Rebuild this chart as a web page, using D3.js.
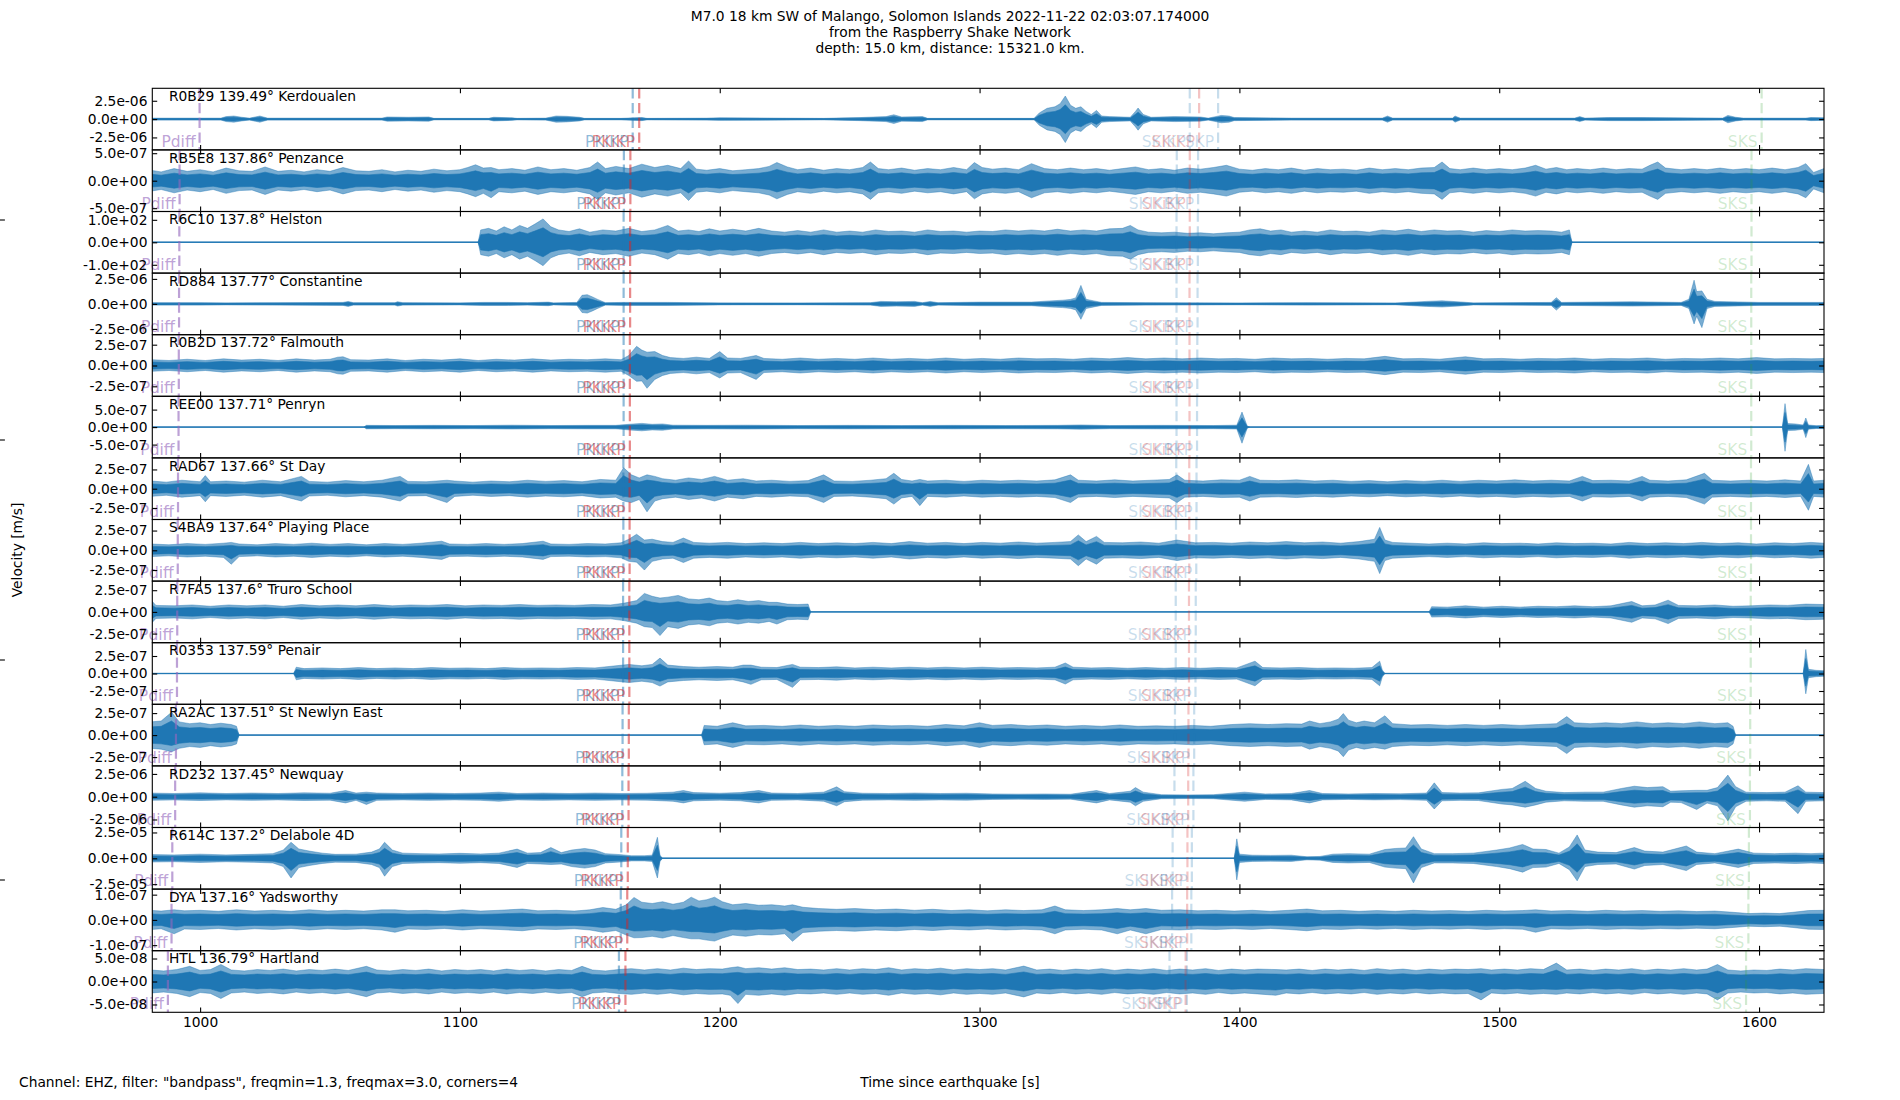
<!DOCTYPE html>
<html>
<head>
<meta charset="utf-8">
<script src="https://cdn.jsdelivr.net/npm/d3@7"></script>
<style>
  body { margin: 0; background: #fff; }
  svg { display: block; }
  text { font-family: "DejaVu Sans", sans-serif; }
</style>
</head>
<body>
<div id="chart"></div>
<script>
// ---- data ----
const titleLines = [
  "M7.0 18 km SW of Malango, Solomon Islands 2022-11-22 02:03:07.174000",
  "from the Raspberry Shake Network",
  "depth: 15.0 km, distance: 15321.0 km."
];
const stations  = ["R0B29", "RB5E8", "R6C10", "RD884", "R0B2D", "REE00", "RAD67", "S4BA9",
                   "R7FA5", "R0353", "RA2AC", "RD232", "R614C", "DYA", "HTL"];
const distances = ["139.49", "137.86", "137.8", "137.77", "137.72", "137.71", "137.66", "137.64",
                   "137.6", "137.59", "137.51", "137.45", "137.2", "137.16", "136.79"];
const places    = ["Kerdoualen", "Penzance", "Helston", "Constantine", "Falmouth", "Penryn", "St Day",
                   "Playing Place", "Truro School", "Penair", "St Newlyn East", "Newquay", "Delabole 4D",
                   "Yadsworthy", "Hartland"];
// amplitudes of each panel are given in units of 10^exponent
const exponents  = [-6, -7, 2, -6, -7, -7, -7, -7, -7, -7, -7, -6, -5, -7, -8];
const tickValues = [2.5, 5.0, 1.0, 2.5, 2.5, 5.0, 2.5, 2.5, 2.5, 2.5, 2.5, 2.5, 2.5, 1.0, 5.0];
const yLimits    = [4.2, 5.6, 1.37, 3.08, 3.7, 8.8, 4.0, 3.9, 3.55, 4.4, 3.5, 3.38, 2.98, 1.22, 6.7];

const timeRange = [981.6, 1625];
const timeTicks = [1000, 1100, 1200, 1300, 1400, 1500, 1600];

const phaseNames = ["Pdiff", "PKIKP", "PKiKP", "SKIKP", "SKiKP", "SKP", "SKS"];
const phaseTimes = [
  [999.8, 1166.5, 1169.0, 1380.9, 1384.5, 1391.8, 1601.0],
  [992.1, 1163.1, 1165.6, 1375.9, 1380.9, 1384.1, 1597.1],
  [992.0, 1163.0, 1165.5, 1375.8, 1380.9, 1384.0, 1597.1],
  [991.9, 1163.0, 1165.5, 1375.8, 1380.8, 1383.9, 1597.0],
  [991.8, 1163.0, 1165.4, 1375.8, 1380.8, 1383.8, 1597.0],
  [991.7, 1163.0, 1165.4, 1375.8, 1380.8, 1383.7, 1597.0],
  [991.5, 1162.9, 1165.3, 1375.7, 1380.7, 1383.5, 1596.9],
  [991.4, 1162.9, 1165.3, 1375.6, 1380.7, 1383.4, 1596.9],
  [991.2, 1162.8, 1165.2, 1375.5, 1380.6, 1383.2, 1596.8],
  [991.1, 1162.8, 1165.2, 1375.5, 1380.6, 1383.1, 1596.8],
  [990.7, 1162.6, 1165.0, 1375.2, 1380.4, 1382.6, 1596.6],
  [990.4, 1162.5, 1164.9, 1375.0, 1380.3, 1382.3, 1596.5],
  [989.3, 1162.1, 1164.6, 1374.3, 1380.0, 1381.7, 1596.1],
  [989.0, 1161.9, 1164.4, 1374.1, 1379.9, 1381.5, 1595.9],
  [987.6, 1161.2, 1163.7, 1373.1, 1379.3, 1379.8, 1595.0]
];
const phaseColors = ["#9467bd", "#1f77b4", "#d62728", "#1f77b4", "#d62728", "#1f77b4", "#2ca02c"];
const phaseAlpha  = [0.62, 0.5, 0.55, 0.25, 0.28, 0.25, 0.22];

// trace envelopes: [time s, upper amplitude, (lower amplitude)] in panel units
const envR0B29 = [[981,.13],[1008,.13],[1010,.34],[1013,.42],[1016,.25],[1019,.13],[1023,.42],[1026,.13],[1070,.13],[1072,.29],[1080,.25],[1088,.29],[1090,.1],[1111,.1],[1113,.25],[1120,.17],[1122,.1],[1133,.13],[1137,.42],[1141,.38],[1146,.25],[1148,.1],[1162,.1],[1170,.21],[1172,.1],[1195,.13],[1200,.17],[1240,.1],[1254,.21],[1264,.34],[1267,.59],[1270,.29],[1278,.34],[1280,.1],[1321,.1],[1323,.84],[1326,1.47],[1329,1.68],[1331,2.1],[1333,3.15,3.2],[1335,1.89],[1337,1.47],[1339,1.68],[1341,1.05],[1343,.63],[1345,1.18],[1347,.42],[1350,.34],[1358,.25],[1360,1.05],[1361,1.51],[1363,.63],[1366,.25],[1375,.34],[1385,.29],[1388,.13],[1393,.5],[1396,.42],[1398,.21],[1420,.13],[1455,.13],[1457,.42],[1459,.13],[1482,.13],[1483,.42],[1485,.13],[1529,.13],[1531,.34],[1533,.13],[1542,.21],[1555,.21],[1586,.13],[1588,.5],[1591,.25],[1594,.13],[1618,.13],[1620,.21],[1625,.17]];
const envRB5E8 = [[981,1.9],[985,1.6],[990,2.2],[995,1.7],[1000,2.0],[1005,1.6],[1010,2.3],[1015,1.8],[1020,1.7],[1025,2.5],[1030,1.7],[1035,1.9],[1040,1.6],[1045,2.0],[1050,1.7],[1055,2.4],[1060,1.8],[1065,1.7],[1070,2.0],[1075,1.6],[1080,1.9],[1085,1.7],[1090,2.1],[1095,1.8],[1100,2.0],[1103,2.4],[1106,2.9],[1109,2.3],[1112,2.4,3.1],[1115,2.0],[1120,2.2],[1125,1.9],[1130,2.5],[1135,2.0],[1140,2.2],[1145,1.9],[1150,2.4],[1153,3.4],[1156,2.2],[1160,2.6],[1165,2.2],[1170,3.0],[1175,2.4],[1180,2.8],[1185,2.2],[1188,3.6],[1191,2.1],[1195,1.9],[1200,2.2],[1205,1.8],[1210,2.0],[1215,2.2],[1219,2.6],[1222,3.3],[1226,2.5],[1230,2.0],[1235,2.3],[1240,1.9],[1245,2.2],[1250,2.0],[1255,2.4],[1258,3.4],[1261,2.2],[1265,2.0],[1270,2.3],[1275,1.9],[1280,2.2],[1285,2.0],[1290,2.4],[1295,2.0],[1298,3.3],[1301,2.4],[1305,2.1],[1310,2.3],[1315,2.0],[1320,3.1],[1325,2.2],[1330,2.0],[1335,2.3],[1340,2.0],[1345,2.2],[1350,1.9],[1355,2.2],[1360,2.5],[1365,2.0],[1370,2.2],[1375,1.9],[1380,2.3],[1385,2.1],[1390,2.4],[1395,2.8],[1400,2.1],[1405,1.9],[1410,2.2],[1415,2.0],[1420,2.3],[1425,1.9],[1430,2.2],[1435,2.0],[1440,2.1],[1445,1.9],[1450,2.3],[1455,2.0],[1460,2.2],[1465,2.0],[1470,2.3],[1475,2.4],[1478,3.4],[1481,2.2],[1485,2.0],[1490,2.3],[1495,2.0],[1500,2.2],[1505,2.0],[1510,2.3],[1514,2.8],[1518,2.1],[1522,2.4],[1526,2.0],[1530,2.2],[1535,2.0],[1540,2.3],[1545,2.0],[1550,2.2],[1555,2.1],[1558,2.8],[1561,3.4],[1564,2.3],[1570,2.0],[1575,2.2],[1580,2.0],[1585,2.3],[1590,2.0],[1595,2.2],[1600,2.0],[1605,2.3],[1610,2.0],[1615,2.4],[1618,3.1],[1621,1.5],[1625,2.2]];
const envR6C10 = [[981,0],[1107,0],[1108,.55],[1111,.62],[1114,.5],[1117,.69],[1120,.55],[1123,.75],[1126,.62],[1129,.82],[1132,1.04],[1135,.69],[1138,.55],[1142,.48],[1146,.6],[1150,.45],[1155,.55],[1160,.5],[1165,.62],[1170,.48],[1175,.55],[1180,.75],[1184,.5],[1188,.55],[1192,.48],[1196,.6],[1200,.5],[1205,.58],[1210,.5],[1215,.62],[1220,.5],[1225,.45],[1230,.52],[1235,.45],[1240,.55],[1245,.45],[1250,.5],[1255,.45],[1260,.55],[1265,.48],[1270,.5],[1275,.45],[1280,.55],[1285,.48],[1290,.5],[1295,.45],[1300,.5],[1305,.48],[1310,.55],[1315,.5],[1320,.55],[1325,.5],[1330,.58],[1335,.5],[1340,.55],[1345,.5],[1350,.6],[1355,.62],[1358,.75],[1361,.55],[1365,.45],[1370,.42],[1375,.45],[1380,.4],[1385,.42],[1390,.38],[1395,.42],[1400,.45],[1404,.55],[1408,.6],[1412,.5],[1416,.55],[1420,.45],[1425,.5],[1430,.45],[1435,.55],[1440,.48],[1445,.5],[1450,.45],[1455,.55],[1460,.5],[1465,.58],[1470,.48],[1475,.55],[1480,.5],[1485,.52],[1490,.45],[1495,.52],[1500,.48],[1505,.55],[1510,.5],[1515,.52],[1520,.5],[1524,.45],[1527,.55],[1528,0],[1625,0]];
const envRD884 = [[981,.12],[1000,.12],[1010,.1],[1030,.12],[1055,.15],[1057,.25],[1059,.12],[1075,.12],[1076,.22],[1078,.12],[1100,.1],[1109,.15],[1118,.15],[1126,.12],[1134,.18],[1136,.1],[1145,.15],[1147,.86],[1149,.92],[1151,.7],[1153,.45],[1156,.12],[1163,.15],[1180,.15],[1200,.1],[1230,.09],[1258,.12],[1262,.25],[1268,.22],[1275,.25],[1278,.12],[1281,.25],[1284,.12],[1300,.18],[1320,.18],[1327,.3],[1332,.37],[1335,.45],[1337,.6],[1339,1.85,1.54],[1341,.46],[1344,.3],[1347,.15],[1364,.12],[1400,.09],[1426,.12],[1460,.09],[1472,.25],[1478,.31],[1485,.2],[1490,.1],[1520,.15],[1522,.62],[1524,.15],[1551,.22],[1570,.15],[1573,.46],[1575,2.37,2.0],[1576,1.23],[1578,1.3,2.37],[1580,.46],[1583,.25],[1592,.2],[1600,.15],[1625,.15]];
const envR0B2D = [[981,.7],[988,.6],[995,.75],[1002,.6],[1009,.8],[1016,.65],[1023,.75],[1030,.6],[1037,.8],[1044,.65],[1050,.75],[1053,1.0],[1055,1.05],[1058,.7],[1065,.65],[1072,.8],[1079,.6],[1086,.75],[1093,.65],[1100,.8],[1107,.6],[1114,.75],[1121,.65],[1128,.8],[1135,.65],[1142,.75],[1149,.7],[1156,.8],[1162,.7],[1165,1.2],[1168,2.3,1.9],[1170,1.85],[1172,1.6,2.74],[1175,1.67],[1178,1.2],[1181,.95],[1186,.85],[1191,1.0],[1196,.85],[1200,1.67,1.5],[1203,.9],[1208,.85],[1214,1.2,1.67],[1217,.85],[1224,.75],[1231,.9],[1238,.75],[1245,.85],[1252,.75],[1259,.9],[1266,.75],[1273,.85],[1280,.75],[1287,.9],[1294,.75],[1301,.85],[1308,.75],[1315,.9],[1322,.8],[1329,.85],[1336,.75],[1343,.9],[1350,.8],[1357,.95],[1364,.8],[1371,.9],[1378,.8],[1385,.9],[1392,.8],[1399,.85],[1406,.75],[1413,.9],[1420,.8],[1427,.85],[1434,.75],[1441,.85],[1448,.8],[1456,1.1],[1463,.8],[1470,.85],[1477,.75],[1487,1.05],[1494,.8],[1501,.85],[1508,.75],[1515,.85],[1522,.8],[1529,.9],[1536,.75],[1543,.85],[1550,.8],[1557,.9],[1564,.75],[1571,.85],[1578,.8],[1585,.9],[1592,.8],[1599,.95],[1606,.8],[1613,.85],[1620,.8],[1625,.85]];
const envREE00 = [[981,0],[1063,0],[1064,.5],[1075,.45],[1090,.5],[1105,.45],[1120,.55],[1135,.45],[1150,.5],[1160,.5],[1165,.8],[1170,1.06],[1174,.8],[1178,.9],[1182,.55],[1195,.5],[1210,.55],[1230,.45],[1250,.5],[1270,.45],[1290,.5],[1310,.45],[1330,.5],[1339,.62],[1350,.45],[1370,.5],[1390,.45],[1399,.55],[1401,4.3,4.6],[1403,.3],[1404,0],[1609,0],[1610,6.7,6.9],[1611,1.0],[1614,.9],[1617,.6],[1618,2.6,3.0],[1619,.6],[1622,.4],[1625,.45]];
const envRAD67 = [[981,1.0],[987,.85],[993,1.1],[1000,.9],[1002,1.7],[1004,.9],[1010,1.0],[1017,.85],[1024,1.1],[1031,.9],[1039,1.6],[1042,.95],[1049,.85],[1056,1.05],[1063,.9],[1070,1.1],[1077,1.6],[1080,.95],[1087,.9],[1095,1.1,1.8],[1098,1.0],[1105,.85],[1112,1.0],[1119,.9],[1126,1.1],[1133,.95],[1140,1.05],[1147,.9],[1154,1.2],[1160,1.1],[1163,2.72,1.6],[1166,1.8],[1169,1.4],[1172,1.8,3.0],[1175,1.6],[1178,1.3],[1183,1.1],[1188,1.4],[1193,1.2],[1198,1.6],[1203,1.1],[1209,1.3],[1214,1.0],[1220,1.1],[1227,.95],[1234,1.05],[1240,1.8],[1244,1.0],[1251,.95],[1258,1.1],[1264,1.3],[1267,2.0],[1270,1.2],[1274,1.0],[1277,1.2,2.2],[1280,1.0],[1287,1.1],[1294,.95],[1301,1.1],[1308,1.0],[1315,1.1],[1322,1.0],[1329,1.15],[1335,1.8],[1338,1.1],[1345,1.0],[1352,1.15],[1359,1.0],[1366,1.1],[1373,1.2],[1376,1.8],[1379,1.1],[1386,1.0],[1393,1.15],[1400,1.1],[1404,1.6],[1408,1.1],[1415,1.05],[1422,1.15],[1429,1.0],[1436,1.1],[1443,.95],[1450,1.05],[1457,.9],[1464,1.05],[1471,.95],[1478,1.1],[1485,.95],[1492,1.1],[1499,1.0],[1506,1.15],[1513,1.0],[1520,1.1],[1527,1.0],[1532,1.6],[1536,1.05],[1543,1.1],[1550,1.0],[1555,1.6],[1558,1.1],[1565,1.0],[1572,1.15],[1579,2.0],[1582,1.1],[1589,1.0],[1596,1.1],[1603,1.0],[1610,1.15],[1616,1.0],[1619,3.16,2.8],[1621,1.0],[1625,1.1]];
const envS4BA9 = [[981,.8],[988,.7],[995,.85],[1002,.75],[1009,.9],[1012,1.0,1.76],[1015,.8],[1022,.7],[1029,.85],[1036,.75],[1043,.9],[1050,.75],[1057,.85],[1064,.7],[1071,.85],[1078,.75],[1085,.9],[1093,1.15],[1096,.8],[1103,.75],[1110,.85],[1117,.75],[1124,.85],[1132,1.15],[1135,.8],[1142,.75],[1149,.85],[1156,.8],[1162,.95],[1165,1.4],[1168,2.03,1.5],[1171,1.3,2.5],[1174,1.4],[1178,1.1],[1182,1.0],[1186,1.55],[1190,1.0],[1196,.9],[1203,1.0],[1210,.85],[1217,.95],[1224,.85],[1231,1.0],[1238,.85],[1245,.95],[1252,.85],[1259,1.0],[1266,.85],[1273,1.1],[1280,.9],[1287,1.0],[1294,.85],[1301,1.0],[1308,.9],[1315,1.05],[1322,.9],[1329,1.0],[1335,1.1],[1338,1.95],[1341,1.1],[1345,1.76],[1348,1.0],[1355,.95],[1362,1.05],[1369,.9],[1376,1.3],[1383,.95],[1390,1.0],[1397,.9],[1404,1.05],[1411,.95],[1418,1.1],[1425,.95],[1432,1.05],[1439,.9],[1446,1.1],[1450,1.3],[1452,1.4],[1454,2.9,2.95],[1456,1.3],[1459,1.0],[1466,.9],[1473,.8],[1480,.9],[1487,.8],[1494,.95],[1501,.85],[1508,.9],[1515,.8],[1522,.95],[1529,.85],[1536,.9],[1543,.8],[1550,1.0],[1557,.85],[1564,.95],[1571,.85],[1578,1.0],[1585,.85],[1592,.95],[1599,.8],[1606,.95],[1613,.85],[1620,1.0],[1625,.9]];
const envR7FA5 = [[981,1.4],[983,.75],[990,.7],[997,.8],[1004,.65],[1011,.8],[1018,.7],[1025,.8],[1032,.65],[1039,.85],[1046,.7],[1053,.8],[1060,.7],[1067,.85],[1074,.7],[1081,.8],[1088,.75],[1095,.85],[1102,.7],[1109,.8],[1116,.75],[1123,.85],[1130,.75],[1137,.8],[1144,.75],[1151,.85],[1158,.8],[1163,1.0],[1168,1.3],[1171,2.13,1.7],[1174,1.8],[1177,1.6,2.73],[1180,1.7],[1184,1.9],[1188,1.5],[1192,1.4],[1196,1.6],[1199,1.3],[1203,1.2],[1207,1.4],[1211,1.2],[1215,1.3],[1219,1.1],[1222,1.1,1.4],[1226,.9],[1230,.85],[1234,.9],[1235,0],[1473,0],[1474,.6],[1480,.55],[1487,.7],[1494,.55],[1501,.65],[1508,.55],[1515,.65],[1522,.6],[1529,.7],[1536,.6],[1543,.7],[1551,1.2],[1555,.7],[1560,.8],[1565,1.35],[1569,.75],[1576,.7],[1583,.8],[1590,.65],[1597,.7],[1604,.8],[1611,.75],[1618,.9],[1625,.85]];
const envR0353 = [[981,0],[1036,0],[1037,.9],[1040,.7],[1047,.8],[1054,.7],[1061,.85],[1068,.7],[1075,.8],[1082,.7],[1089,.85],[1096,.75],[1103,.8],[1110,.7],[1117,.85],[1124,.75],[1131,.8],[1138,.75],[1145,.85],[1152,.8],[1160,1.1],[1165,1.3],[1170,1.1],[1174,1.3],[1177,2.2,1.8],[1180,1.2],[1186,1.0],[1192,.9],[1199,1.0],[1205,.9],[1209,1.2],[1212,1.2,1.55],[1216,.9],[1222,.85],[1228,1.3,1.98],[1231,.9],[1238,.85],[1245,.95],[1252,.8],[1259,.9],[1266,.8],[1273,.9],[1280,.8],[1287,.9],[1294,.8],[1301,.9],[1308,.8],[1315,.85],[1322,.8],[1329,.9],[1333,1.5],[1336,.9],[1343,.8],[1350,.85],[1357,.75],[1364,.85],[1371,.75],[1378,.85],[1385,.75],[1392,.85],[1399,.8],[1406,1.76],[1409,.85],[1416,.8],[1423,.85],[1430,.75],[1437,.8],[1444,.75],[1451,.85],[1454,1.76],[1455,.5],[1456,0],[1617,0],[1618,3.43,2.9],[1619,.6],[1622,.45],[1625,.4]];
const envRA2AC = [[981,1.5],[985,1.6],[989,2.59,1.9],[992,1.5],[996,1.3],[1000,1.4],[1004,1.2],[1008,1.35],[1012,1.2],[1014,1.0],[1015,0],[1193,0],[1194,1.1],[1199,1.0],[1205,1.4],[1210,1.05],[1217,1.1],[1224,1.0],[1231,1.15],[1238,1.0],[1245,1.1],[1252,1.0],[1259,1.15],[1266,1.05],[1273,1.1],[1280,1.0],[1287,1.2],[1294,1.05],[1300,1.4],[1305,1.1],[1312,1.2],[1319,1.05],[1326,1.15],[1333,1.0],[1340,1.1],[1347,1.0],[1354,1.15],[1361,1.0],[1368,1.05],[1375,1.0],[1382,1.1],[1389,1.0],[1397,1.2],[1404,1.3],[1411,1.2],[1418,1.3],[1424,1.25],[1427,1.6],[1431,1.3],[1435,1.5],[1438,1.8],[1440,2.45],[1442,1.7],[1445,1.4],[1448,1.6],[1452,1.4],[1456,2.2,1.6],[1459,1.3],[1466,1.15],[1473,1.2],[1480,1.1],[1487,1.2],[1494,1.1],[1501,1.2],[1508,1.1],[1515,1.2],[1522,1.3],[1526,2.1],[1529,1.4],[1535,1.3],[1541,1.4],[1547,1.3],[1553,1.5],[1559,1.3],[1565,1.4],[1571,1.3],[1577,1.5],[1583,1.3],[1588,1.4],[1590,1.0],[1591,0],[1625,0]];
const envRD232 = [[981,.4],[990,.35],[1000,.42],[1010,.35],[1020,.4],[1030,.35],[1040,.42],[1050,.38],[1056,.68],[1060,.4],[1064,.5,.85],[1068,.4],[1078,.35],[1088,.4],[1098,.35],[1108,.4],[1115,.5],[1122,.35],[1132,.4],[1142,.35],[1152,.4],[1162,.35],[1172,.38],[1182,.5],[1186,.68],[1190,.45],[1200,.38],[1208,.45],[1215,.68],[1220,.4],[1230,.35],[1240,.5],[1245,1.08,1.0],[1248,.55],[1255,.38],[1265,.35],[1275,.4],[1285,.35],[1295,.38],[1305,.3],[1315,.28],[1325,.3],[1335,.27],[1345,.68],[1350,.35],[1358,.6],[1360,1.0],[1363,.5],[1370,.22],[1380,.2],[1390,.22],[1402,.5],[1410,.3],[1420,.35],[1427,.68],[1432,.35],[1442,.3],[1452,.35],[1462,.32],[1472,.4],[1475,1.52,1.35],[1478,.45],[1485,.4],[1492,.42],[1501,.8],[1505,.9],[1510,1.69,1.15],[1514,.9],[1518,.6],[1525,.45],[1533,.5],[1540,.5],[1547,.9],[1552,1.15],[1557,1.0],[1563,1.1],[1566,.6],[1570,.65],[1576,.7,1.4],[1580,.7],[1584,1.0],[1588,2.37,2.64],[1591,1.1],[1595,.5],[1603,.45],[1610,.5],[1615,1.2,1.86],[1618,.5],[1625,.45]];
const envR614C = [[981,.36],[990,.33],[1000,.4],[1010,.33],[1020,.38],[1028,.45],[1032,.8],[1035,1.55,1.9],[1038,.9],[1042,.7],[1047,.5],[1052,.38],[1060,.4],[1066,.6],[1069,.9],[1071,1.55,1.73],[1074,.8],[1078,.5],[1085,.45],[1092,.42],[1100,.48],[1108,.42],[1115,.5],[1122,.89],[1126,.5],[1131,.55],[1135,1.04,.6],[1139,.55],[1143,.8],[1148,.95],[1152,.8],[1156,.45],[1162,.35],[1166,.25],[1171,.25],[1174,.3],[1176,2.03,1.9],[1177,.3],[1178,0],[1398,0],[1399,1.88,2.09],[1400,.4],[1405,.3],[1412,.28],[1420,.3],[1426,.15],[1431,.18],[1436,.4],[1442,.45],[1450,.4],[1456,.85],[1460,.95],[1464,1.0],[1467,2.09,2.38],[1470,.9],[1475,.45],[1482,.45],[1490,.5],[1499,.8],[1504,1.0],[1509,1.34],[1513,.9],[1518,.85],[1523,.5],[1527,1.1],[1530,2.26,2.18],[1533,.8],[1538,.6],[1545,.55],[1552,1.04],[1556,.7],[1563,.6],[1572,1.19],[1576,.6],[1583,.45],[1592,.89],[1598,.5],[1606,.45],[1614,.5],[1620,.45],[1625,.5]];
const envDYA = [[981,.38],[985,.35],[990,.4,.55],[994,.36],[1000,.38],[1007,.34],[1014,.4],[1021,.35],[1028,.38],[1035,.34],[1042,.4],[1049,.35],[1056,.38],[1063,.35],[1070,.4],[1075,.4,.49],[1080,.36],[1087,.38],[1094,.34],[1101,.4],[1108,.35],[1115,.38],[1124,.43],[1130,.36],[1137,.38],[1144,.35],[1150,.4],[1155,.49],[1160,.42],[1164,.6],[1167,.89,.71],[1170,.7],[1174,.65],[1178,.72],[1182,.62],[1186,.7],[1189,.9,.75],[1192,.75],[1195,.8],[1198,.9,.84],[1201,.72],[1205,.6],[1210,.65],[1215,.58],[1220,.6],[1225,.55],[1228,.6,.85],[1232,.5],[1238,.45],[1245,.42],[1252,.45],[1260,.4],[1268,.43],[1275,.38],[1282,.42],[1289,.37],[1296,.4],[1303,.36],[1310,.4],[1317,.37],[1324,.4],[1329,.55],[1333,.4],[1340,.37],[1347,.4],[1353,.45,.55],[1358,.4],[1364,.45,.55],[1370,.38],[1377,.4],[1384,.36],[1391,.38],[1398,.35],[1405,.38],[1412,.34],[1419,.38],[1426,.43],[1432,.36],[1439,.38],[1446,.34],[1453,.37],[1460,.34],[1467,.38],[1474,.35],[1481,.37],[1488,.34],[1495,.38],[1502,.35],[1509,.37],[1514,.4,.49],[1520,.35],[1527,.37],[1534,.34],[1541,.38],[1548,.35],[1555,.37],[1562,.34],[1569,.36],[1576,.33],[1583,.35],[1590,.3],[1596,.25],[1602,.27],[1608,.25],[1613,.3],[1619,.37],[1625,.38]];
const envHTL = [[981,2.5],[986,2.3],[991,2.6],[996,3.3],[1000,2.4],[1004,2.6],[1008,3.7],[1012,2.5],[1017,2.3],[1022,2.6],[1027,2.4],[1032,2.7],[1037,2.3],[1042,2.6],[1047,2.4],[1052,2.7],[1057,2.4],[1064,3.3],[1068,2.5],[1073,2.3],[1078,2.6],[1083,2.4],[1088,2.7],[1093,2.3],[1098,2.6],[1103,2.4],[1108,2.6],[1113,2.3],[1118,2.7],[1123,2.4],[1128,2.6],[1133,2.3],[1138,2.6],[1143,2.4],[1147,3.3],[1151,2.5],[1156,2.3],[1161,2.6],[1166,2.8],[1171,2.5],[1176,2.8],[1181,2.5],[1186,2.9],[1191,2.6],[1196,2.8],[1201,2.7],[1204,3.0],[1207,3.2,4.8],[1210,2.8],[1215,3.0],[1220,2.7],[1225,3.0],[1230,2.6],[1235,2.7],[1240,2.5],[1245,2.8],[1250,2.5],[1255,2.8],[1260,2.6],[1265,3.0],[1270,2.5],[1275,2.8],[1280,2.6],[1285,2.9],[1290,2.5],[1295,2.8],[1300,2.6],[1305,2.8],[1310,2.5],[1317,3.35],[1322,2.5],[1327,2.7],[1332,2.4],[1337,2.7],[1342,2.5],[1347,2.8],[1352,2.4],[1357,2.7],[1362,2.5],[1367,2.8],[1372,2.4],[1377,2.7],[1382,2.5],[1387,2.8],[1392,2.4],[1397,2.7],[1402,2.5],[1407,2.7],[1414,2.6,3.0],[1418,2.5],[1423,2.7],[1428,2.4],[1433,2.7],[1438,2.5],[1443,2.7],[1448,2.4],[1453,2.8],[1458,2.5],[1463,2.7],[1468,2.4],[1473,2.7],[1478,2.5],[1483,2.7],[1488,2.6],[1493,2.8,4.0],[1497,2.5],[1502,2.7],[1507,2.5],[1512,2.8],[1517,2.6],[1522,4.0,2.8],[1526,2.5],[1531,2.7],[1536,2.4],[1541,2.7],[1546,2.5],[1551,2.8],[1556,2.4],[1561,2.7],[1566,2.5],[1571,2.8],[1576,2.5],[1580,2.7],[1584,3.7,4.0],[1588,2.5],[1593,2.3],[1598,2.5],[1603,2.4],[1608,2.7],[1613,2.5],[1618,2.8],[1625,2.6]];

const envelopes = [envR0B29, envRB5E8, envR6C10, envRD884, envR0B2D, envREE00, envRAD67, envS4BA9,
                   envR7FA5, envR0353, envRA2AC, envRD232, envR614C, envDYA, envHTL];

// ---- layout ----
const W = 1900, H = 1100;
const plotLeft = 152.3, plotRight = 1824, plotTop = 88.3, panelH = 61.6;
const TRACE = '#1f77b4';
const FONT = 13.8;
const CORE = 0.62;   // the dense middle of an oscillating trace, as share of its envelope

const svg = d3.select('#chart').append('svg')
  .attr('width', W).attr('height', H)
  .style('font-family', '"DejaVu Sans", sans-serif');

const x = d3.scaleLinear().domain(timeRange).range([plotLeft, plotRight]);

function sci(m, e) {
  if (m === 0) return '0.0e+00';
  const s = m < 0 ? '-' : '';
  const es = e < 0 ? '-' : '+';
  return s + Math.abs(m).toFixed(1) + 'e' + es + String(Math.abs(e)).padStart(2, '0');
}

// title
svg.append('g').selectAll('text')
  .data(titleLines)
  .join('text')
  .attr('x', 950)
  .attr('y', (d, i) => 20.5 + i * 16.3)
  .attr('text-anchor', 'middle')
  .attr('font-size', FONT)
  .text(d => d);

// tiny ticks of the hidden full-figure axes
svg.append('g').selectAll('line')
  .data([0.2, 0.4, 0.6, 0.8])
  .join('line')
  .attr('x1', 0).attr('x2', 4.9)
  .attr('y1', d => H - d * H).attr('y2', d => H - d * H)
  .attr('stroke', '#000').attr('stroke-width', 1.1);

const defs = svg.append('defs');

stations.forEach((code, i) => {
  const top = plotTop + i * panelH;
  const bottom = top + panelH;
  const y = d3.scaleLinear().domain([-yLimits[i], yLimits[i]]).range([bottom, top]);
  const g = svg.append('g');

  defs.append('clipPath').attr('id', 'clip' + i)
    .append('rect')
    .attr('x', plotLeft).attr('y', top)
    .attr('width', plotRight - plotLeft).attr('height', panelH);

  const traceG = g.append('g').attr('clip-path', `url(#clip${i})`);

  // flat part of the trace (data gaps are drawn as a straight line at zero)
  traceG.append('line')
    .attr('x1', x(timeRange[0])).attr('x2', x(timeRange[1]))
    .attr('y1', y(0)).attr('y2', y(0))
    .attr('stroke', TRACE).attr('stroke-width', 1.4).attr('stroke-opacity', 0.65);

  const lo = d => (d.length > 2 ? d[2] : d[1]);
  const outer = d3.area().x(d => x(d[0])).y1(d => y(d[1])).y0(d => y(-lo(d)));
  const inner = d3.area().x(d => x(d[0])).y1(d => y(d[1] * CORE)).y0(d => y(-lo(d) * CORE));

  // fringe of the oscillation: spikes reach the envelope, white shows between them
  traceG.append('path')
    .datum(envelopes[i])
    .attr('d', outer)
    .attr('fill', TRACE)
    .attr('fill-opacity', 0.6)
    .attr('stroke', TRACE)
    .attr('stroke-opacity', 0.7)
    .attr('stroke-width', 0.6)
    .attr('stroke-linejoin', 'round');

  traceG.append('path')
    .datum(envelopes[i])
    .attr('d', inner)
    .attr('fill', TRACE)
    .attr('stroke', TRACE)
    .attr('stroke-width', 0.6);

  // phase arrivals
  phaseNames.forEach((name, j) => {
    const t = phaseTimes[i][j];
    g.append('line')
      .attr('x1', x(t)).attr('x2', x(t))
      .attr('y1', top).attr('y2', bottom)
      .attr('stroke', phaseColors[j])
      .attr('stroke-opacity', phaseAlpha[j])
      .attr('stroke-width', 2.2)
      .attr('stroke-dasharray', '10.3,4.4');
    g.append('text')
      .attr('x', x(t) - 4)
      .attr('y', bottom - 3)
      .attr('text-anchor', 'end')
      .attr('font-size', 15.5)
      .attr('fill', phaseColors[j])
      .attr('fill-opacity', phaseAlpha[j])
      .text(name);
  });

  // axes with inward ticks
  const yt = [tickValues[i], 0, -tickValues[i]];
  const left = g.append('g')
    .attr('transform', `translate(${plotLeft},0)`)
    .call(d3.axisLeft(y).tickValues(yt).tickSizeInner(-4.9).tickSizeOuter(0).tickPadding(4.9)
      .tickFormat(v => sci(v, exponents[i])));
  const right = g.append('g')
    .attr('transform', `translate(${plotRight},0)`)
    .call(d3.axisRight(y).tickValues(yt).tickSizeInner(-4.9).tickSizeOuter(0).tickFormat(''));
  const topAx = g.append('g')
    .attr('transform', `translate(0,${top})`)
    .call(d3.axisTop(x).tickValues(timeTicks).tickSizeInner(-4.9).tickSizeOuter(0).tickFormat(''));
  const botAx = g.append('g')
    .attr('transform', `translate(0,${bottom})`)
    .call(d3.axisBottom(x).tickValues(timeTicks).tickSizeInner(-4.9).tickSizeOuter(0).tickPadding(4.9)
      .tickFormat(i === stations.length - 1 ? d3.format('d') : ''));

  [left, right, topAx, botAx].forEach(a => {
    a.select('.domain').remove();
    a.selectAll('.tick line').attr('stroke', '#000').attr('stroke-width', 1.1);
    a.selectAll('text').attr('font-size', FONT).attr('font-family', '"DejaVu Sans", sans-serif').attr('fill', '#000');
  });

  g.append('rect')
    .attr('x', plotLeft).attr('y', top)
    .attr('width', plotRight - plotLeft).attr('height', panelH)
    .attr('fill', 'none').attr('stroke', '#000').attr('stroke-width', 1.1);

  g.append('text')
    .attr('x', 169)
    .attr('y', top + 12.7)
    .attr('font-size', FONT)
    .text(`${code} ${distances[i]}° ${places[i]}`);
});

svg.append('text')
  .attr('transform', 'translate(22,550) rotate(-90)')
  .attr('text-anchor', 'middle')
  .attr('font-size', FONT)
  .text('Velocity [m/s]');

svg.append('text')
  .attr('x', 950).attr('y', 1086.7)
  .attr('text-anchor', 'middle')
  .attr('font-size', FONT)
  .text('Time since earthquake [s]');

svg.append('text')
  .attr('x', 19).attr('y', 1086.7)
  .attr('font-size', FONT)
  .text('Channel: EHZ, filter: "bandpass", freqmin=1.3, freqmax=3.0, corners=4');
</script>
</body>
</html>
